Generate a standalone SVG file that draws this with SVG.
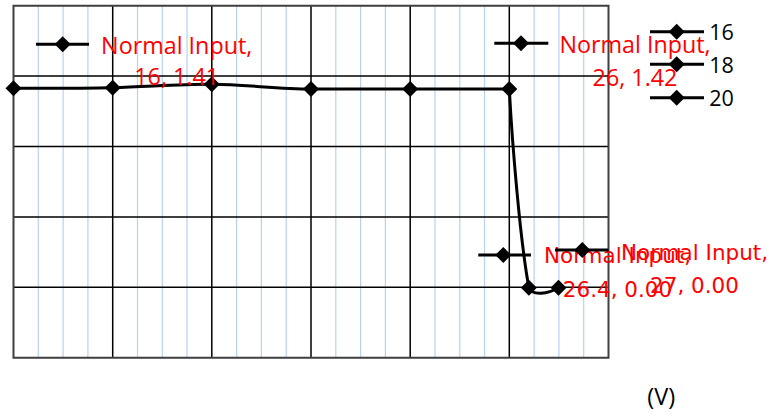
<svg xmlns="http://www.w3.org/2000/svg" xmlns:xlink="http://www.w3.org/1999/xlink" width="771" height="415" viewBox="0 0 771 415">
<style>
.minor{stroke:#b7d2f2;stroke-width:1.2;fill:none}
.major{stroke:#000;stroke-width:1.5;fill:none}
.border{stroke:#3f3f3f;stroke-width:2;fill:none}
.series{stroke:#000;stroke-width:3;fill:none;stroke-linejoin:round}
.key{stroke:#000;stroke-width:3}
.lbl{font-family:"Open Sans","Liberation Sans",sans-serif;font-size:23.3px;fill:#ff0000;text-anchor:middle}
.lbl2{font-family:"DejaVu Sans",sans-serif;font-size:21.5px;fill:#ff0000;text-anchor:middle}
.leg{font-family:"Open Sans","Liberation Sans",sans-serif;font-size:21.5px;fill:#000}
</style>
<defs>
<path id="dia" d="M0,-8 L8,0 L0,8 L-8,0 Z" fill="#000"/>
</defs>
<rect width="771" height="415" fill="#fff"/>
<g id="grid">
<g class="minor">
<path d="M38.3,5.7V357.7M63.1,5.7V357.7M87.9,5.7V357.7M137.5,5.7V357.7M162.3,5.7V357.7M187.0,5.7V357.7M236.6,5.7V357.7M261.4,5.7V357.7M286.2,5.7V357.7M335.8,5.7V357.7M360.6,5.7V357.7M385.4,5.7V357.7M435.0,5.7V357.7M459.8,5.7V357.7M484.5,5.7V357.7M534.1,5.7V357.7M558.9,5.7V357.7M583.7,5.7V357.7"/>
</g>
<g class="major">
<path d="M112.7,5.7V357.7M211.8,5.7V357.7M311,5.7V357.7M410.2,5.7V357.7M509.3,5.7V357.7"/>
<path d="M13.5,76.1H608.5M13.5,146.5H608.5M13.5,216.9H608.5M13.5,287.3H608.5"/>
</g>
<path class="border" d="M13.5,5.7H608.5V357.7H13.5Z"/>
</g>
<g id="connectors">
<path class="series" d="M13.5,88.3 C30,88.2 79.6,88.4 112.7,87.7 C145.7,87 178.7,84.1 211.8,84.3 C244.8,84.5 278,89 311,89 L509.3,89 C512,140 520,240 528.9,287.7 C532,296 548,294 558.5,287.7"/>
</g>
<g id="points">
<use xlink:href="#dia" x="13.5" y="88.3"/>
<use xlink:href="#dia" x="112.7" y="87.7"/>
<use xlink:href="#dia" x="211.8" y="84.3"/>
<use xlink:href="#dia" x="311" y="89"/>
<use xlink:href="#dia" x="410.2" y="89"/>
<use xlink:href="#dia" x="509.3" y="89"/>
<use xlink:href="#dia" x="528.9" y="287.7"/>
<use xlink:href="#dia" x="558.5" y="287.7"/>
</g>
<g id="label-16">
<line class="key" x1="36" y1="44.3" x2="89" y2="44.3"/>
<use xlink:href="#dia" x="62.7" y="44.3"/>
<text class="lbl" x="176.7" y="54">Normal Input,</text>
<text class="lbl" x="176.7" y="85.3">16, 1.41</text>
</g>
<g id="label-26">
<line class="key" x1="494.3" y1="43.3" x2="548.3" y2="43.3"/>
<use xlink:href="#dia" x="521" y="43.3"/>
<text class="lbl" x="635" y="53.3">Normal Input,</text>
<text class="lbl" x="635" y="86">26, 1.42</text>
</g>
<g id="legend">
<line class="key" x1="650" y1="31.7" x2="704" y2="31.7"/>
<use xlink:href="#dia" x="676.7" y="31.7"/>
<text class="leg" x="709.3" y="40">16</text>
<line class="key" x1="650" y1="64.3" x2="704" y2="64.3"/>
<use xlink:href="#dia" x="676.7" y="64.3"/>
<text class="leg" x="709.3" y="72.7">18</text>
<line class="key" x1="650" y1="97.7" x2="704" y2="97.7"/>
<use xlink:href="#dia" x="676.7" y="97.7"/>
<text class="leg" x="709.3" y="106">20</text>
</g>
<g id="label-26-4">
<line class="key" x1="478.3" y1="255" x2="531" y2="255"/>
<use xlink:href="#dia" x="503.3" y="255"/>
<text class="lbl2" x="617.5" y="263.3">Normal Input,</text>
<text class="lbl2" x="617.5" y="296.7">26.4, 0.00</text>
</g>
<g id="label-27">
<line class="key" x1="555" y1="250" x2="608.3" y2="250"/>
<use xlink:href="#dia" x="582.3" y="250"/>
<text class="lbl2" x="694.5" y="260">Normal Input,</text>
<text class="lbl2" x="694.5" y="292.7">27, 0.00</text>
</g>
<g id="axis-unit">
<text class="leg" x="661.3" y="405" text-anchor="middle" style="font-size:23.5px">(V)</text>
</g>
</svg>
